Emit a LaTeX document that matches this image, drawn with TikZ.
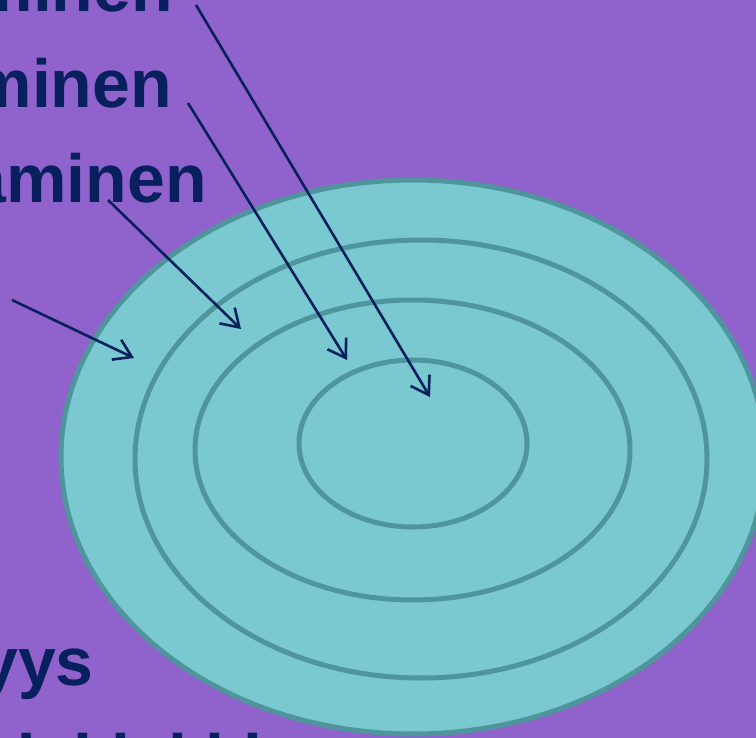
\documentclass[tikz,border=0pt]{standalone}
\usepackage{fontspec}
\setmainfont{Liberation Sans}
\usetikzlibrary{arrows.meta}
\definecolor{bgpurple}{HTML}{9062CC}
\definecolor{ringfill}{HTML}{7AC8D0}
\definecolor{ringline}{HTML}{4E969B}
\definecolor{navy}{HTML}{08205E}
\tikzset{
  ring/.style={fill=ringfill, draw=ringline, line width=5pt},
  label/.style={inner sep=0pt, text=navy, font=\fontsize{68}{80}\selectfont\bfseries},
  pointer/.style={draw=navy, line width=2.6pt, -{Straight Barb[length=17pt,width=22pt,line width=2.6pt]}}
}
\begin{document}
\begin{tikzpicture}[x=1pt,y=-1pt]
\useasboundingbox (0,0) rectangle (756,738);
\fill[bgpurple] (0,0) rectangle (756,738);
\begin{scope}
\clip (0,0) rectangle (756,738);
% rings
\draw[ring] (413,457) ellipse [x radius=352, y radius=277];
\draw[ring] (421,459) ellipse [x radius=286, y radius=219];
\draw[ring] (412.5,450) ellipse [x radius=217.5, y radius=150];
\draw[ring] (413,443.5) ellipse [x radius=114, y radius=83.5];
% labels
\node[label, anchor=base east] (l1) at (173,12) {minen};
\node[label, anchor=base east] (l2) at (172,108) {minen};
\node[label, anchor=base east] (l3) at (207,203) {aminen};
\node[label, anchor=base east] (l5) at (94,685) {yys};
\node[label, anchor=base west] (l6) at (-6,782) {deklakki};
% arrow ends
\coordinate (s1) at (196,5);   \coordinate (e1) at (430,397);
\coordinate (s2) at (188,103); \coordinate (e2) at (347,360);
\coordinate (s3) at (108,200); \coordinate (e3) at (241,329);
\coordinate (s4) at (12,300);  \coordinate (e4) at (134,358);
\draw[pointer] (s1) -- (e1);
\draw[pointer] (s2) -- (e2);
\draw[pointer] (s3) -- (e3);
\draw[pointer] (s4) -- (e4);
\end{scope}
\end{tikzpicture}
\end{document}
